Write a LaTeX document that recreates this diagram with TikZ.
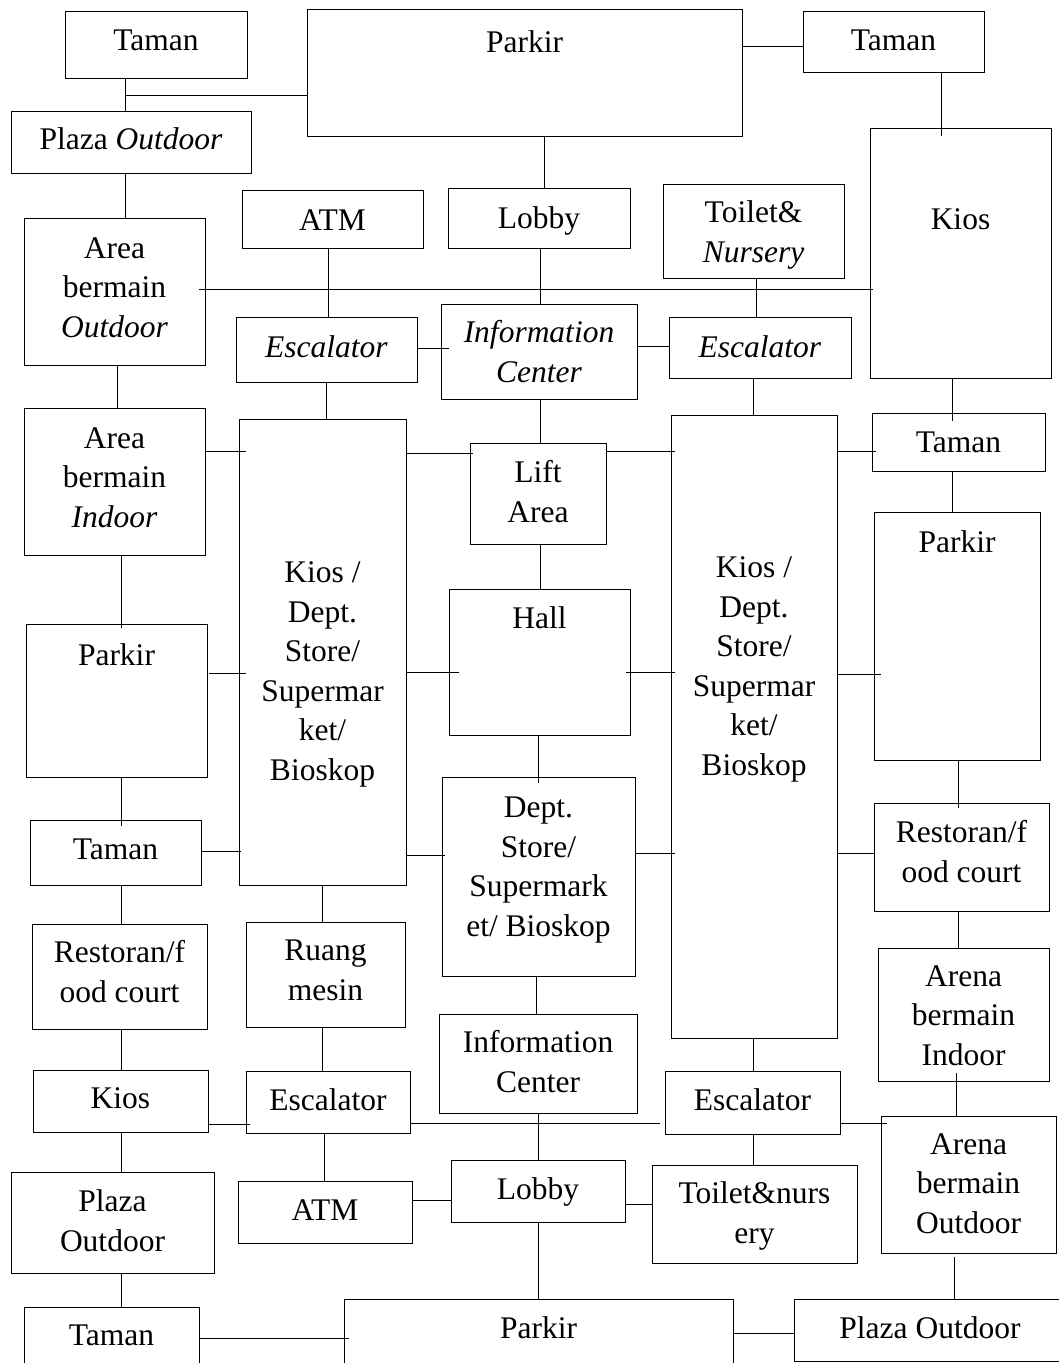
\documentclass[tikz,border=0pt]{standalone}
\usepackage{fontspec}
\setmainfont{Liberation Serif}
\begin{document}
\begin{tikzpicture}[x=1pt,y=-1pt,
  box/.style={draw, line width=1pt, rectangle, outer sep=0pt, inner sep=0pt},
  lbl/.style={font=\fontsize{31.5}{39.5}\selectfont, inner sep=0pt, anchor=base, align=center},
  conn/.style={line width=1pt}]
\useasboundingbox (0,0) rectangle (1059,1363);
\clip (0,0) rectangle (1059,1363);
\fill[white] (0,0) rectangle (1059,1363);
% #6 = baseline of the LAST text line
\newcommand\bx[7]{%
  \node[box, minimum width={#4-#2}, minimum height={#5-#3}] (#1) at ({(#2+#4)/2},{(#3+#5)/2}) {};
  \node[lbl] (#1t) at ({(#2+#4)/2},#6) {#7};}
\newcommand\vc[4][]{\draw[conn,#1] (#3.south -| #2,0) -- (#4.north -| #2,0);}
\newcommand\hc[4][]{\draw[conn,#1] (#3.east |- 0,#2) -- (#4.west |- 0,#2);}
% top row
\bx{taA}{65}{11}{247}{78}{50}{Taman}
\bx{parA}{307}{9}{742}{136}{52}{Parkir}
\bx{tamB}{803}{11}{984}{72}{50}{Taman}
\bx{plzA}{11}{111}{251}{173}{149}{Plaza \textit{Outdoor}}
\bx{abo}{24}{218}{205}{365}{337}{Area\\bermain\\\textit{Outdoor}}
\bx{atmA}{242}{190}{423}{248}{230}{ATM}
\bx{lobA}{448}{188}{630}{248}{228}{Lobby}
\bx{toiA}{663}{184}{844}{278}{262}{Toilet\&\\\textit{Nursery}}
\bx{kioA}{870}{128}{1051}{378}{229}{Kios}
\bx{escA}{236}{317}{417}{382}{357}{\textit{Escalator}}
\bx{infA}{441}{304}{637}{399}{382}{\textit{Information}\\\textit{Center}}
\bx{escB}{669}{317}{851}{378}{357}{\textit{Escalator}}
% middle
\bx{abi}{24}{408}{205}{555}{527}{Area\\bermain\\\textit{Indoor}}
\bx{parL}{26}{624}{207}{777}{665}{Parkir}
\bx{tamL}{30}{820}{201}{885}{859}{Taman}
\bx{ksL}{239}{419}{406}{885}{780}{Kios /\\Dept.\\Store/\\Supermar\\ket/\\Bioskop}
\bx{lift}{470}{443}{606}{544}{522}{Lift\\Area}
\bx{hall}{449}{589}{630}{735}{628}{Hall}
\bx{dept}{442}{777}{635}{976}{936}{Dept.\\Store/\\Supermark\\et/ Bioskop}
\bx{ksR}{671}{415}{837}{1038}{775}{Kios /\\Dept.\\Store/\\Supermar\\ket/\\Bioskop}
\bx{tamR}{872}{413}{1045}{471}{452}{Taman}
\bx{parR}{874}{512}{1040}{760}{552}{Parkir}
\bx{resR}{874}{803}{1049}{911}{882}{Restoran/f\\ood court}
% lower
\bx{resL}{32}{924}{207}{1029}{1002}{Restoran/f\\ood court}
\bx{ruang}{246}{922}{405}{1027}{1000}{Ruang\\mesin}
\bx{kioL}{33}{1070}{208}{1132}{1108}{Kios}
\bx{escC}{246}{1071}{410}{1133}{1110}{Escalator}
\bx{plzL}{11}{1172}{214}{1273}{1251}{Plaza\\Outdoor}
\bx{tamBot}{24}{1307}{199}{1390}{1345}{Taman}
\bx{atmB}{238}{1181}{412}{1243}{1220}{ATM}
\bx{infB}{439}{1014}{637}{1113}{1092}{Information\\Center}
\bx{lobB}{451}{1160}{625}{1222}{1199}{Lobby}
\bx{toiB}{652}{1165}{857}{1263}{1243}{Toilet\&nurs\\ery}
\bx{escD}{665}{1071}{840}{1134}{1110}{Escalator}
\bx{abiR}{878}{948}{1049}{1081}{1065}{Arena\\bermain\\Indoor}
\bx{aboR}{881}{1116}{1056}{1253}{1233}{Arena\\bermain\\Outdoor}
\bx{parBot}{344}{1299}{733}{1390}{1338}{Parkir}
\node[box, minimum width=280, minimum height=62] (plzBot) at (934,1330) {};
\node[lbl] (plzBott) at (930,1338) {Plaza Outdoor};
% connectors
\coordinate (j1) at (125,95);
\vc{125}{taA}{plzA}
\draw[conn] (j1) -- (parA.west |- j1);
\vc{125}{plzA}{abo}
\vc{544}{parA}{lobA}
\hc{46}{parA}{tamB}
\vc[shorten >=-8pt]{941}{tamB}{kioA}
\hc[shorten <=-6pt, shorten >=-3pt]{289}{abo}{kioA}
\vc{328}{atmA}{escA}
\vc{540}{lobA}{infA}
\vc{756}{toiA}{escB}
\hc[shorten >=-8pt]{348}{escA}{infA}
\hc{346}{infA}{escB}
\vc{326}{escA}{ksL}
\vc{540}{infA}{lift}
\vc{753}{escB}{ksR}
\vc[shorten >=-8pt]{952}{kioA}{tamR}
\vc{117}{abo}{abi}
\hc[shorten >=-7pt]{451}{abi}{ksL}
\vc[shorten >=-4pt]{121}{abi}{parL}
\hc[shorten <=2pt, shorten >=-7pt]{673}{parL}{ksL}
\vc[shorten >=-6pt]{121}{parL}{tamL}
\hc[shorten >=-2pt]{851}{tamL}{ksL}
\hc[shorten >=-3pt]{453}{ksL}{lift}
\hc[shorten >=-4pt]{451}{lift}{ksR}
\vc{540}{lift}{hall}
\hc[shorten >=-10pt]{672}{ksL}{hall}
\hc[shorten <=-4pt, shorten >=-4pt]{672}{hall}{ksR}
\vc[shorten >=-6pt]{538}{hall}{dept}
\hc[shorten >=-3pt]{855}{ksL}{dept}
\hc[shorten >=-4pt]{853}{dept}{ksR}
\hc[shorten >=-4pt]{451}{ksR}{tamR}
\vc{952}{tamR}{parR}
\hc[shorten >=-7pt]{674}{ksR}{parR}
\vc[shorten >=-5pt]{958}{parR}{resR}
\hc{853}{ksR}{resR}
\vc{121}{tamL}{resL}
\vc{322}{ksL}{ruang}
\vc{121}{resL}{kioL}
\vc{322}{ruang}{escC}
\hc[shorten >=-4pt]{1124}{kioL}{escC}
\vc{121}{kioL}{plzL}
\vc{324}{escC}{atmB}
\vc{121}{plzL}{tamBot}
\hc[shorten >=-5pt]{1338}{tamBot}{parBot}
\vc{536}{dept}{infB}
\hc[shorten >=5pt]{1123}{escC}{escD}
\vc{538}{infB}{lobB}
\hc{1200}{atmB}{lobB}
\hc{1204}{lobB}{toiB}
\vc{538}{lobB}{parBot}
\vc{753}{ksR}{escD}
\hc[shorten >=-6pt]{1123}{escD}{aboR}
\vc{753}{escD}{toiB}
\vc{958}{resR}{abiR}
\vc[shorten <=-8pt]{956}{abiR}{aboR}
\vc[shorten <=4pt]{954}{aboR}{plzBot}
\hc{1333}{parBot}{plzBot}
\end{tikzpicture}
\end{document}
